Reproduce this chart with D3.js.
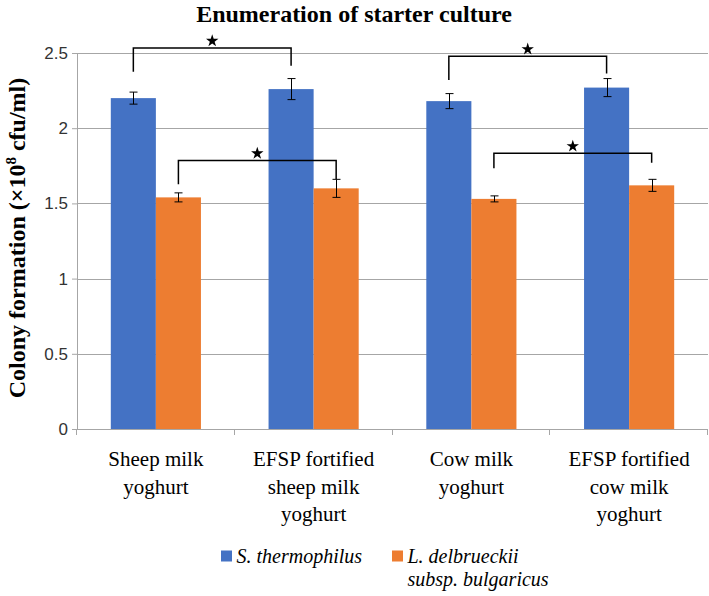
<!DOCTYPE html>
<html><head><meta charset="utf-8">
<script src="https://cdn.jsdelivr.net/npm/d3@7"></script>
<style>
body{margin:0;background:#fff}
</style>
</head><body>
<script>
const categories = [["Sheep milk","yoghurt"],["EFSP fortified","sheep milk","yoghurt"],["Cow milk","yoghurt"],["EFSP fortified","cow milk","yoghurt"]];
const seriesNames = ["S. thermophilus","L. delbrueckii subsp. bulgaricus"];
const thermophilus = [2.20, 2.26, 2.18, 2.27];
const thermophilusErr = [0.04, 0.07, 0.05, 0.06];
const bulgaricus = [1.54, 1.60, 1.53, 1.62];
const bulgaricusErr = [0.03, 0.06, 0.02, 0.04];
const yTicks = [0, 0.5, 1, 1.5, 2, 2.5];
// significance brackets: [series, fromCat, toCat, level, leftLegEnd, rightLegEnd]
const brackets = [
  [0, 0, 1, 2.534, 2.375, 2.415],
  [1, 0, 1, 1.786, 1.627, 1.662],
  [0, 2, 3, 2.479, 2.32, 2.364],
  [1, 2, 3, 1.833, 1.733, 1.770]
];
const colors = ["#4472C4", "#ED7D31"];

const SERIF = "Liberation Serif";
const W = 709, H = 596;
const m = {left: 77, right: 1, top: 53, bottom: 167};
const svg = d3.select("body").append("svg").attr("width", W).attr("height", H)
  .style("font-family", SERIF);

const x = d3.scaleBand().domain(d3.range(categories.length)).range([m.left, W - m.right]);
const y = d3.scaleLinear().domain([0, 2.5]).range([H - m.bottom, m.top]);
const barW = x.bandwidth() * 0.2857;
const xs = (cat, s) => x(cat) + x.bandwidth()/2 + (s - 1) * barW;
const y0 = y(0);

// category labels
categories.forEach((lines, i) => {
  lines.forEach((l, j) => {
    svg.append("text").attr("text-anchor", "middle")
      .attr("x", x(i) + x.bandwidth()/2).attr("y", y0 + 37 + j * 27.5)
      .attr("font-family", SERIF).attr("font-size", 21).attr("fill", "#000")
      .text(l);
  });
});
// legend
const legendText = [[seriesNames[0]], ["L. delbrueckii", "subsp. bulgaricus"]];
const legendX = [221, 392];
legendText.forEach((lines, s) => {
  svg.append("rect").attr("x", legendX[s]).attr("y", 550.5).attr("width", 11).attr("height", 11).attr("fill", colors[s]);
  lines.forEach((l, j) => {
    svg.append("text").attr("x", legendX[s] + 15.5).attr("y", 562.5 + j * 23.5)
      .attr("font-family", SERIF).attr("font-style", "italic").attr("font-size", 20)
      .attr("fill", "#000").text(l);
  });
});
// title
svg.append("text").attr("x", 354).attr("y", 22).attr("text-anchor", "middle")
  .attr("font-family", SERIF).attr("font-weight", "bold").attr("font-size", 24)
  .text("Enumeration of starter culture");
// y label
const yl = svg.append("text").attr("transform", `translate(25,${238}) rotate(-90)`).attr("text-anchor", "middle")
  .attr("font-family", SERIF).attr("font-weight", "bold").attr("font-size", 24);
yl.append("tspan").text("Colony formation (×10");
yl.append("tspan").attr("font-size", 15).attr("dy", -9).text("8");
yl.append("tspan").attr("dy", 9).text(" cfu/ml)");

// gridlines
svg.append("g").selectAll("line").data(yTicks.filter(d => d > 0)).join("line")
  .attr("x1", m.left).attr("x2", W - m.right)
  .attr("y1", d => Math.round(y(d)) + 0.5).attr("y2", d => Math.round(y(d)) + 0.5)
  .attr("stroke", "#a6a6a6").attr("stroke-width", 1);

// bars
const series = [thermophilus, bulgaricus];
const errs = [thermophilusErr, bulgaricusErr];
series.forEach((vals, s) => {
  svg.append("g").selectAll("rect").data(vals).join("rect")
    .attr("x", (d, i) => xs(i, s)).attr("width", barW)
    .attr("y", d => y(d)).attr("height", d => y(0) - y(d))
    .attr("fill", colors[s]);
});
// error bars
series.forEach((vals, s) => {
  const g = svg.append("g").attr("stroke", "#000").attr("stroke-width", 1);
  vals.forEach((v, i) => {
    const cx = Math.round(xs(i, s) + barW/2) + 0.5;
    const e = errs[s][i];
    g.append("line").attr("x1", cx).attr("x2", cx).attr("y1", y(v + e)).attr("y2", y(v - e));
    g.append("line").attr("x1", cx - 4).attr("x2", cx + 4).attr("y1", y(v + e)).attr("y2", y(v + e));
    g.append("line").attr("x1", cx - 4).attr("x2", cx + 4).attr("y1", y(v - e)).attr("y2", y(v - e));
  });
});

// x axis line and ticks
svg.append("line").attr("x1", m.left).attr("x2", W - m.right).attr("y1", y0 + 0.5).attr("y2", y0 + 0.5).attr("stroke", "#a6a6a6");
d3.range(categories.length + 1).forEach(i => {
  const xx = Math.round(i < categories.length ? x(i) : x(categories.length - 1) + x.bandwidth()) - 0.5;
  svg.append("line").attr("x1", xx).attr("x2", xx).attr("y1", y0).attr("y2", y0 + 6).attr("stroke", "#a6a6a6");
});

// brackets with star symbols
const star = d3.symbol().type(d3.symbolStar).size(48);
brackets.forEach(([s, a, b, lvl, l1, l2]) => {
  const xa = xs(a, s) + barW/2, xb = xs(b, s) + barW/2;
  svg.append("path").attr("d", `M${xa},${y(l1)}V${y(lvl)}H${xb}V${y(l2)}`)
    .attr("fill", "none").attr("stroke", "#000").attr("stroke-width", 1.5);
  svg.append("path").attr("d", star()).attr("fill", "#000")
    .attr("transform", `translate(${(xa + xb)/2},${y(lvl) - 7})`);
});

// y axis
const yAxis = d3.axisLeft(y).tickValues(yTicks).tickSize(5).tickFormat(d => d3.format("")(d));
const gy = svg.append("g").attr("transform", `translate(${m.left},0)`).call(yAxis)
  .attr("font-family", "Liberation Sans").attr("font-size", 17);
gy.select(".domain").attr("stroke", "#a6a6a6");
gy.selectAll(".tick line").attr("stroke", "#a6a6a6");
gy.selectAll(".tick text").attr("fill", "#333").attr("x", -9);
</script>
</body></html>
